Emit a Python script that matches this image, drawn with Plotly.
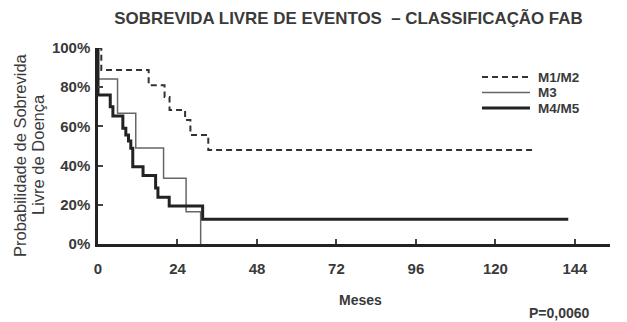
import plotly.graph_objects as go

# ---- data ----
m12_t = [0, 1.0, 15.3, 20.1, 21.6, 26.3, 27.9, 33.3, 131.3]
m12_s = [100, 88.8, 81, 75, 68.4, 63.3, 55.6, 48, 48]

m3_t = [0, 0, 5.9, 11.4, 19.8, 26.6, 31.0]
m3_s = [100, 84.2, 66.7, 49, 33.5, 16.5, 0]

m45_t = [0, 0, 3.7, 4.5, 7.5, 8.4, 9.2, 9.9, 10.5, 13.6, 17.4, 18.1, 21.5, 31.6, 142]
m45_s = [100, 76, 70, 65.3, 59, 55.6, 52.5, 48.8, 39.4, 35, 28.6, 23.9, 19.4, 12.6, 12.6]

series_names = ["M1/M2", "M3", "M4/M5"]
x_ticks = [0, 24, 48, 72, 96, 120, 144]
y_ticks = [0, 20, 40, 60, 80, 100]
y_tick_labels = ["0%", "20%", "40%", "60%", "80%", "100%"]

title_text = "SOBREVIDA LIVRE DE EVENTOS  – CLASSIFICAÇÃO FAB"
y_title_1 = "Probabilidade de Sobrevida"
y_title_2 = "Livre de Doença"
x_title = "Meses"
p_text = "P=0,0060"

FONT = "Liberation Sans, Arial, sans-serif"
TXT = "#3a3a3a"

styles = [
    dict(color="#333333", width=2, dash="6px,4px"),
    dict(color="#666666", width=1.5, dash="solid"),
    dict(color="#222222", width=3, dash="solid"),
]

fig = go.Figure()
for (t, s), name, st in zip([(m12_t, m12_s), (m3_t, m3_s), (m45_t, m45_s)], series_names, styles):
    fig.add_trace(go.Scatter(x=t, y=s, mode="lines", name=name, showlegend=False,
                             line=dict(shape="hv", **st)))

L, R, T, B = 98, 17, 48, 78
W, H = 627, 322
pw = W - L - R
ph = H - T - B


def px(x):
    return (x - L) / pw


def py(y):
    return 1 - (y - T) / ph


fig.update_layout(
    width=W, height=H,
    margin=dict(l=L, r=R, t=T, b=B),
    paper_bgcolor="white", plot_bgcolor="white",
    font=dict(family=FONT, color=TXT, size=14),
    title=dict(text=title_text, x=348.5 / W, xanchor="center",
               y=1 - 18 / H, yanchor="middle", yref="container",
               font=dict(size=16.9, weight="bold", color=TXT, family=FONT)),
    showlegend=False,
    xaxis=dict(range=[0, 154.6], tickvals=x_ticks, showgrid=False, zeroline=False,
               showline=True, linecolor="#222222", linewidth=2.5,
               ticks="inside", ticklen=5, tickwidth=1.5, tickcolor="#444444",
               ticklabelstandoff=9,
               tickfont=dict(size=15, weight="bold", color=TXT)),
    yaxis=dict(range=[0, 100], tickvals=y_ticks, ticktext=y_tick_labels,
               showgrid=False, zeroline=False,
               showline=True, linecolor="#222222", linewidth=2.5,
               ticks="inside", ticklen=5, tickwidth=1.5, tickcolor="#444444",
               ticklabelstandoff=2,
               tickfont=dict(size=15, weight="bold", color=TXT)),
)

# legend drawn as samples + labels
leg_rows = [77, 92.5, 108]
for name, st, yy in zip(series_names, styles, leg_rows):
    fig.add_shape(type="line", xref="paper", yref="paper",
                  x0=px(482), x1=px(530), y0=py(yy), y1=py(yy),
                  line=dict(color=st["color"], width=st["width"], dash=st["dash"]))
    fig.add_annotation(text=name, xref="paper", yref="paper", x=px(536), y=py(yy),
                       xanchor="left", yanchor="middle", showarrow=False,
                       font=dict(family=FONT, color=TXT, size=13.5, weight="bold"))

ann = [
    dict(text=y_title_1, x=20, y=155, textangle=-90, font=dict(size=16.5)),
    dict(text=y_title_2, x=38, y=155, textangle=-90, font=dict(size=16.5)),
    dict(text=x_title, x=360, y=300, font=dict(size=14, weight="bold")),
]
for a in ann:
    fig.add_annotation(text=a["text"], xref="paper", yref="paper",
                       x=px(a["x"]), y=py(a["y"]),
                       xanchor="center", yanchor="middle", showarrow=False,
                       textangle=a.get("textangle", 0),
                       font=dict(family=FONT, color=TXT, **a["font"]))
fig.add_annotation(text=p_text, xref="paper", yref="paper",
                   x=px(592), y=py(313),
                   xanchor="right", yanchor="middle", showarrow=False,
                   font=dict(family=FONT, color=TXT, size=14, weight="bold"))

fig.write_html("out.html", config={"displayModeBar": False},
               post_script="document.body.style.margin='0';")
